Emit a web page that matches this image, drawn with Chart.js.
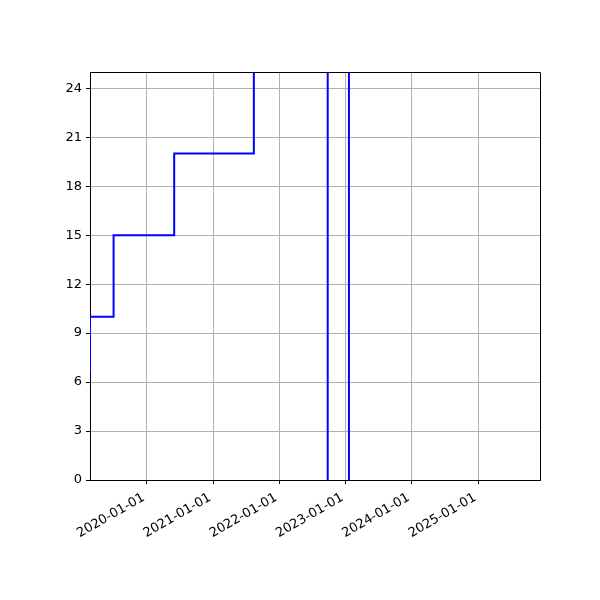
<!DOCTYPE html>
<html>
<head>
<meta charset="utf-8">
<script src="https://cdn.jsdelivr.net/npm/chart.js@4/dist/chart.umd.min.js"></script>
<style>
  body { margin: 0; background: #fff; }
  canvas { display: block; }
</style>
</head>
<body>
<canvas id="stepChart" width="600" height="600"></canvas>
<script>
// data (steps-pre style, values above 25 / below 0 are off the axes)
var dates = ["2019-02-23", "2019-07-03", "2020-06-01", "2021-08-14", "2022-09-25", "2023-01-20", "2025-12-08"];
var values = [6.5, 10, 15, 20, 30, -5, 40];

var xTickLabels = ["2020-01-01", "2021-01-01", "2022-01-01", "2023-01-01", "2024-01-01", "2025-01-01"];
var yTicks = [0, 3, 6, 9, 12, 15, 18, 21, 24];
var yMax = 25;

function toMs(s) {
    var p = s.split("-");
    return Date.UTC(+p[0], +p[1] - 1, +p[2]);
}

function fmt(ms) {
    var d = new Date(ms);
    var m = String(d.getUTCMonth() + 1).padStart(2, "0");
    var day = String(d.getUTCDate()).padStart(2, "0");
    return d.getUTCFullYear() + "-" + m + "-" + day;
}

var points = dates.map(function (d, i) {
    return { x: toMs(d), y: values[i] };
});

// top and right spines
var frame = {
    id: "frame",
    afterDatasetsDraw: function (chart) {
        var a = chart.chartArea, ctx = chart.ctx;
        ctx.save();
        ctx.strokeStyle = "#000";
        ctx.lineWidth = 1;
        ctx.beginPath();
        ctx.moveTo(a.left, a.top + 0.5);
        ctx.lineTo(a.right + 0.5, a.top + 0.5);
        ctx.lineTo(a.right + 0.5, a.bottom);
        ctx.stroke();
        ctx.restore();
    }
};

Chart.defaults.font.family = "'DejaVu Sans', sans-serif";
Chart.defaults.font.size = 13;
Chart.defaults.color = "#000";

var stepChart = new Chart("stepChart", {
    type: "line",
    data: {
        datasets: [{
            data: points,
            borderColor: "#0000ff",
            borderWidth: 2,
            pointRadius: 0,
            stepped: "after",
            fill: false
        }]
    },
    options: {
        responsive: false,
        animation: false,
        layout: { padding: { left: 0, top: 72, right: 60, bottom: 0 } },
        plugins: { legend: { display: false }, tooltip: { enabled: false } },
        scales: {
            x: {
                type: "linear",
                min: toMs(dates[0]),
                max: toMs(dates[dates.length - 1]),
                afterBuildTicks: function (scale) {
                    scale.ticks = xTickLabels.map(function (t) { return { value: toMs(t) }; });
                },
                afterFit: function (scale) { scale.height = 120; },
                ticks: {
                    autoSkip: false,
                    minRotation: 30,
                    maxRotation: 30,
                    padding: 6,
                    labelOffset: -3,
                    callback: function (v) { return fmt(v); }
                },
                grid: { color: "#b0b0b0", lineWidth: 1, tickColor: "#000", tickLength: 4 },
                border: { color: "#000", width: 1 }
            },
            y: {
                min: 0,
                max: yMax,
                afterBuildTicks: function (scale) {
                    scale.ticks = yTicks.map(function (v) { return { value: v }; });
                },
                afterFit: function (scale) { scale.width = 90; },
                ticks: { padding: 4 },
                grid: { color: "#b0b0b0", lineWidth: 1, tickColor: "#000", tickLength: 4 },
                border: { color: "#000", width: 1 }
            }
        }
    },
    plugins: [frame]
});
</script>
</body>
</html>
